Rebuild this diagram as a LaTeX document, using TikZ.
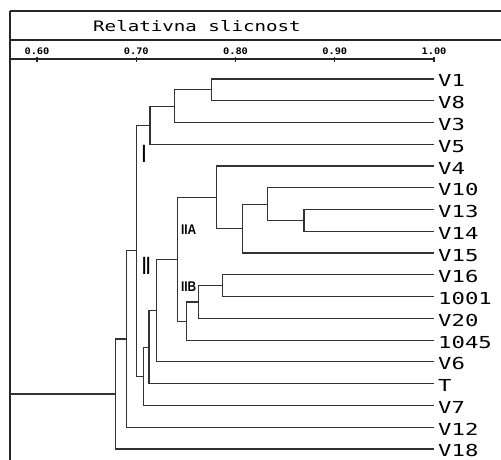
\documentclass[tikz,border=0pt]{standalone}
\usepackage{fontspec}
\usepackage{graphicx}
\newfontfamily\plotfont{DejaVu Sans Mono}
\newfontfamily\markfont{Liberation Sans}
\usetikzlibrary{positioning}

\begin{document}
\begin{tikzpicture}[
  x=1pt, y=-1pt,
  branch/.style={draw=black!80, line width=1.2pt},
  frame/.style={draw=black!85, line width=1.3pt},
  leaf/.style={anchor=west, inner xsep=4pt, inner ysep=0pt,
    text height=16pt, text depth=0pt,
    font=\plotfont\fontsize{16.5}{18}\selectfont},
  scalelabel/.style={anchor=base, inner sep=0pt,
    font=\plotfont\bfseries\fontsize{9}{10}\selectfont},
  cluster/.style={inner sep=0pt, font=\markfont\bfseries\fontsize{14}{15}\selectfont},
  bigcluster/.style={inner sep=0pt, font=\markfont\bfseries\fontsize{25}{26}\selectfont}
]
\useasboundingbox (0,0) rectangle (501,460);
\fill[white] (0,0) rectangle (501,460);

% header and scale
\draw[frame] (10,11) -- (501,11);
\draw[frame] (10,40) -- (501,40);
\draw[frame] (10,11) -- (10,460);
\draw[frame] (10,59) -- (434,59);
\node[anchor=base west, inner sep=0pt, font=\plotfont\fontsize{14.4}{16}\selectfont]
  (title) at (93,32) {\scalebox{1.33}[1]{Relativna slicnost}};
\foreach \val [count=\k from 0] in {0.60,0.70,0.80,0.90,1.00} {
  \draw[frame] ({37+99.25*\k},57) -- ({37+99.25*\k},62);
  \node[scalelabel] (tick\k) at ({37+99.25*\k},54.3) {\scalebox{1.15}[1]{\val}};
}

% leaves
\foreach \name/\txt [count=\i from 0] in {v1/V1, v8/V8, v3/V3, v5/V5, v4/V4,
    v10/V10, v13/V13, v14/V14, v15/V15, v16/V16, s1001/1001, v20/V20,
    s1045/1045, v6/V6, t/T, v7/V7, v12/V12, v18/V18}
  \node[leaf] (\name) at (434,{79+21.76*\i}) {\scalebox{1.35}[1]{\txt}};

% joins
\coordinate (a1) at (211.7,89.9);
\coordinate (a2) at (174.3,106.2);
\coordinate (a3) at (150,125.25);
\coordinate (b1) at (304,220.45);
\coordinate (b2) at (267.3,204.1);
\coordinate (b3) at (242.7,228.6);
\coordinate (b4) at (216.7,197.3);
\coordinate (c1) at (222.3,285.7);
\coordinate (c2) at (198.3,302.05);
\coordinate (c3) at (186.7,321.1);
\coordinate (d1) at (177.3,259.2);
\coordinate (d2) at (156.7,310.55);
\coordinate (d3) at (149,347.1);
\coordinate (d4) at (143.3,376.25);
\coordinate (e1) at (136.7,250.75);
\coordinate (e2) at (126.7,339);
\coordinate (e3) at (115.7,394);
\coordinate (root) at (10,0 |- e3);

\draw[branch] (v1.west) -| (a1) |- (v8.west);
\draw[branch] (a1) -| (a2) |- (v3.west);
\draw[branch] (a2) -| (a3) |- (v5.west);
\draw[branch] (v13.west) -| (b1) |- (v14.west);
\draw[branch] (v10.west) -| (b2) |- (b1);
\draw[branch] (b2) -| (b3) |- (v15.west);
\draw[branch] (v4.west) -| (b4) |- (b3);
\draw[branch] (v16.west) -| (c1) |- (s1001.west);
\draw[branch] (c1) -| (c2) |- (v20.west);
\draw[branch] (c2) -| (c3) |- (s1045.west);
\draw[branch] (b4) -| (d1) |- (c3);
\draw[branch] (d1) -| (d2) |- (v6.west);
\draw[branch] (d2) -| (d3) |- (t.west);
\draw[branch] (d3) -| (d4) |- (v7.west);
\draw[branch] (a3) -| (e1) |- (d4);
\draw[branch] (e1) -| (e2) |- (v12.west);
\draw[branch] (e2) -| (e3) |- (v18.west);
\draw[branch] (e3) -- (root);

% cluster marks
\node[bigcluster] (markI) at (144,154) {\scalebox{0.55}[1]{I}};
\node[bigcluster] (markII) at (146.3,266) {\scalebox{0.55}[1]{II}};
\node[cluster] (markIIA) at (188.7,229.2) {\scalebox{0.85}[1]{IIA}};
\node[cluster] (markIIB) at (188.7,286.7) {\scalebox{0.85}[1]{IIB}};
\end{tikzpicture}
\end{document}
